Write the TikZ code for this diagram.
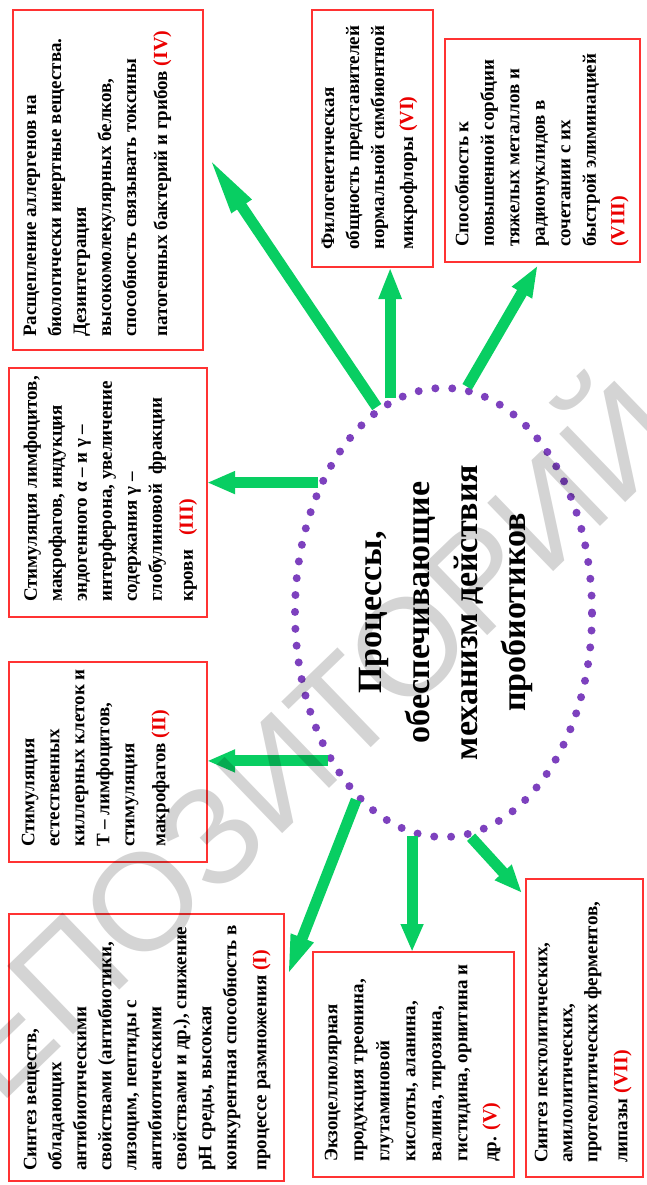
\documentclass[tikz,border=0pt]{standalone}
\usepackage{fontspec}
\setmainfont{Liberation Serif}
\newfontfamily\wmfont{Liberation Sans}
\usepackage{graphicx}
\usetikzlibrary{arrows.meta,shapes.geometric}
\definecolor{grn}{RGB}{8,206,98}
\definecolor{dotpurple}{RGB}{125,65,190}
\definecolor{boxred}{RGB}{255,50,50}
\definecolor{lblred}{RGB}{235,0,0}
\newcommand{\lbl}[1]{{\color{lblred}\fontsize{20}{25}\selectfont(#1)}}
\begin{document}
\begin{tikzpicture}[x=1pt,y=1pt,
  box/.style={draw=boxred, line width=1.6pt, inner sep=0pt, outer sep=0pt},
  txt/.style={rotate=90, anchor=north west, inner sep=0pt, align=left, font=\bfseries\fontsize{19}{25}\selectfont},
  arr/.style={draw=grn, line width=11pt, -{Triangle[length=28pt,width=21pt]}},
  hub/.style={ellipse, draw=dotpurple, line width=8pt, dash pattern=on 0pt off 16.9pt, line cap=round, minimum width=297pt, minimum height=449pt, inner sep=0pt},
  wm/.style={rotate=44, text=black, text opacity=0.17, inner sep=0pt, font=\wmfont\fontsize{138}{138}\selectfont}
]
\fill[white] (0,0) rectangle (646,-1185);
\useasboundingbox (0,0) rectangle (646,-1185);

% boxes
\node[box, minimum width=190pt, minimum height=340pt] (IV) at (108,-180) {};
\node[box, minimum width=121pt, minimum height=257pt] (VI) at (372.5,-138.5) {};
\node[box, minimum width=195pt, minimum height=223pt] (VIII) at (542.5,-150.5) {};
\node[box, minimum width=198pt, minimum height=249pt] (III) at (108,-492.5) {};
\node[box, minimum width=198pt, minimum height=200pt] (II) at (108,-762) {};
\node[box, minimum width=275pt, minimum height=267pt] (I) at (146.5,-1047.5) {};
\node[box, minimum width=201pt, minimum height=225pt] (V) at (413.5,-1064.5) {};
\node[box, minimum width=117pt, minimum height=298pt] (VII) at (584.5,-1028) {};

% texts
\node[txt] (tIVtext) at (23.5,-337) {Расщепление аллергенов на\\ биологически инертные вещества.\\ Дезинтеграция\\ высокомолекулярных белков,\\ способность связывать токсины\\[6pt] патогенных бактерий и грибов \lbl{IV}};
\node[txt] (tVItext) at (321.5,-250) {Филогенетическая\\ общность представителей\\ нормальной симбионтной\\[4pt] микрофлоры \lbl{VI}};
\node[txt, font=\bfseries\fontsize{19}{25.5}\selectfont] (tVIIItext) at (454.5,-247) {Способность к\\ повышенной сорбции\\ тяжелых металлов и\\ радионуклидов в\\ сочетании с их\\ быстрой элиминацией\\[3pt] \lbl{VIII}};
\node[txt] (tIIItext) at (23.5,-602) {Стимуляция лимфоцитов,\\ макрофагов, индукция\\ эндогенного α – и γ –\\ интерферона, увеличение\\ содержания γ –\\ глобулиновой\ \ фракции\\[6pt] крови\ \ \ \lbl{III}};
\node[txt] (tIItext) at (21.5,-847) {Стимуляция\\ естественных\\ киллерных клеток и\\ Т – лимфоцитов,\\ стимуляция\\[6pt] макрофагов \lbl{II}};
\node[txt] (tItext) at (23.5,-1171) {Синтез веществ,\\ обладающих\\ антибиотическими\\ свойствами (антибиотики,\\ лизоцим, пептиды с\\ антибиотическими\\ свойствами и др.), снижение\\ pH среды, высокая\\ конкурентная способность в\\[5pt] процессе размножения \lbl{I}};
\node[txt, font=\bfseries\fontsize{19}{26}\selectfont] (tVtext) at (324.5,-1162) {Экзоцеллюлярная\\ продукция треонина,\\ глутаминовой\\ кислоты, аланина,\\ валина, тирозина,\\ гистидина, орнитина и\\[3pt] др. \lbl{V}};
\node[txt] (tVIItext) at (534.5,-1163) {Синтез пектолитических,\\ амилолитических,\\ протеолитических ферментов,\\[5pt] липазы \lbl{VII}};

% central ellipse
\node[hub] (E) at (443.5,-612.5) {\rotatebox{90}{\bfseries\fontsize{34}{48}\selectfont\begin{tabular}{@{}c@{}}Процессы,\\ обеспечивающие\\ механизм действия\\ пробиотиков\end{tabular}}};

% arrow end points
\coordinate (pIV) at (207,-155);
\coordinate (pVIII) at (538,-265);
\coordinate (pI) at (287,-977);
\coordinate (pVII) at (522,-893);

% arrows
\draw[arr, -{Triangle[length=62pt,width=21pt]}] (E.108.4) -- (pIV);
\draw[arr, -{Triangle[length=32pt,width=21pt]}] (E.104.6) -- (E.104.6 |- VI.south);
\draw[arr, -{Triangle[length=32pt,width=21pt]}] (E.84) -- (pVIII);
\draw[arr] (E.134.1) -- (E.134.1 -| III.east);
\draw[arr] (E.232.5) -- (E.232.5 -| II.east);
\draw[arr, -{Triangle[length=42pt,width=21pt]}] (E.245.3) -- (pI);
\draw[arr] (E.262) -- (E.262 |- V.north);
\draw[arr] (E.277.1) -- (pVII);

% watermark
\node[wm] (wmark) at (268,-762) {РЕПОЗИТОРИЙ};
\end{tikzpicture}
\end{document}
